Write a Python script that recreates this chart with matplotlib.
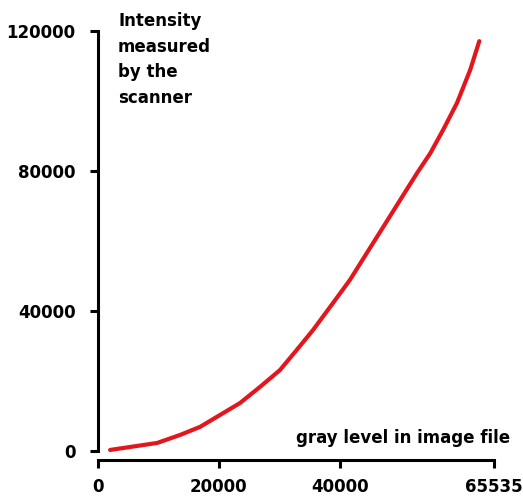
import numpy as np
import matplotlib.pyplot as plt

# values
gray_level = [2000, 9800, 13600, 16900, 20200, 23500, 26800, 30100, 32900,
              35600, 38900, 41700, 44500, 47200, 50000, 52800, 55000, 57100,
              59400, 61600, 63100]
intensity = [300, 2300, 4600, 6900, 10300, 13700, 18300, 23100, 28900,
             34600, 42300, 48900, 56600, 64000, 71700, 79400, 85100, 91700,
             99400, 108900, 117100]

x_ticks = [0, 20000, 40000, 65535]
y_ticks = [0, 40000, 80000, 120000]

plt.rcParams['font.family'] = ['DejaVu Sans']
plt.rcParams['font.weight'] = 'bold'

fig = plt.figure(figsize=(5.23, 4.99), dpi=100)
ax = fig.add_axes([98 / 523, 48 / 499, 396 / 523, 420 / 499])

ax.plot(gray_level, intensity, color='#e3161e', linewidth=3,
        solid_capstyle='round', solid_joinstyle='round', clip_on=False)

ax.set_xlim(0, 65535)
ax.set_ylim(0, 120000)
ax.set_xticks(x_ticks)
ax.set_yticks(y_ticks)
ax.set_xticklabels([str(v) for v in x_ticks])
ax.set_yticklabels([str(v) for v in y_ticks])

for side in ['top', 'right']:
    ax.spines[side].set_visible(False)
for side in ['left', 'bottom']:
    ax.spines[side].set_linewidth(2.2)
    ax.spines[side].set_capstyle('projecting')
ax.spines['bottom'].set_position(('outward', 6.5))
ax.spines['left'].set_bounds(0, 120000)

ax.tick_params(axis='both', width=2.2, length=6, color='black', labelsize=12)
ax.tick_params(axis='x', pad=7)
ax.tick_params(axis='y', pad=10)

fig.text(118 / 523, 1 - 12 / 499, "Intensity\nmeasured\nby the\nscanner",
         ha='left', va='top', fontsize=12, fontweight='bold', linespacing=1.55)
fig.text(510 / 523, (499 - 443) / 499, "gray level in image file",
         ha='right', va='baseline', fontsize=12, fontweight='bold')

fig.savefig('out.png', dpi=100)
